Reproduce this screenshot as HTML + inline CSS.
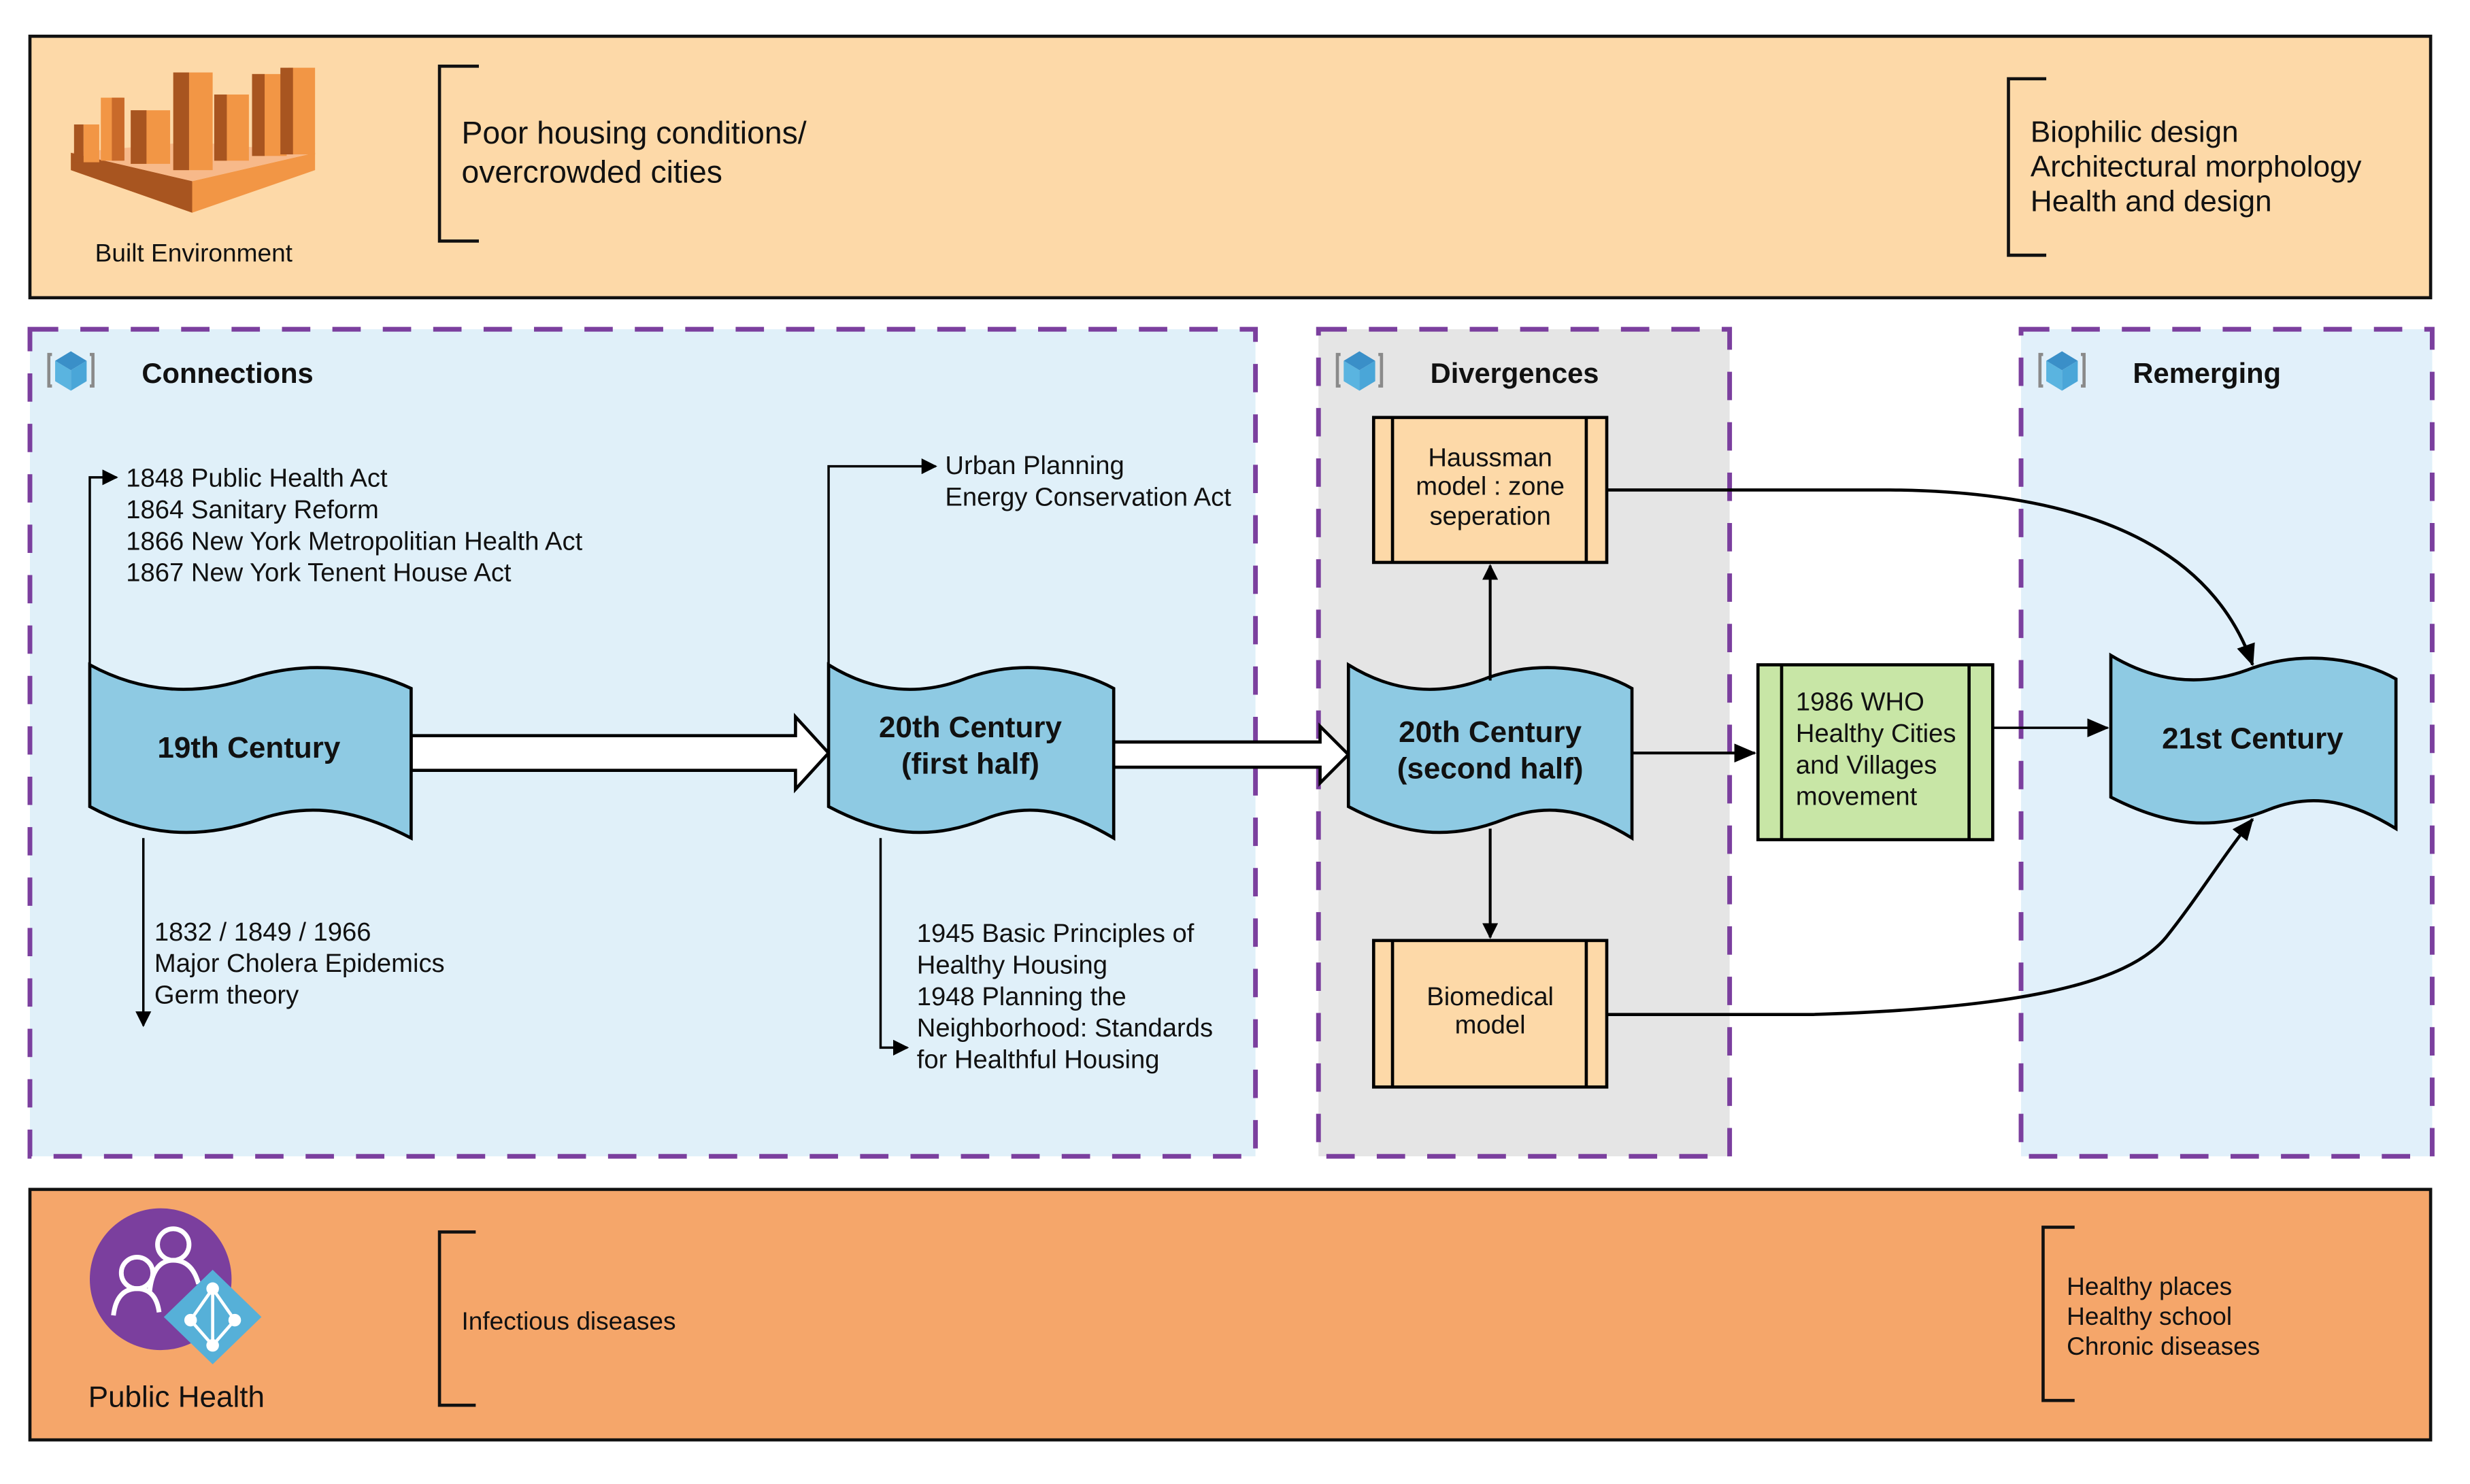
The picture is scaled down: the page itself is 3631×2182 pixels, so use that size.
<!DOCTYPE html>
<html><head><meta charset="utf-8"><style>
html,body{margin:0;padding:0;background:#fff;}
svg{display:block;}
text{font-family:"Liberation Sans",sans-serif;fill:#111;}
</style></head><body>
<svg width="3631" height="2182" viewBox="0 0 1568 942" preserveAspectRatio="none" xmlns="http://www.w3.org/2000/svg">
<defs>
<marker id="ah" markerWidth="10" markerHeight="10" refX="9" refY="5" orient="auto" markerUnits="userSpaceOnUse"><path d="M0,0 L10,5 L0,10 Z" fill="#000"/></marker>
<marker id="ah2" markerWidth="14" markerHeight="12" refX="13" refY="6" orient="auto" markerUnits="userSpaceOnUse"><path d="M0,0 L14,6 L0,12 Z" fill="#000"/></marker>
<g id="cube">
<path d="M-12,-10 L-14,-10 L-14,10 L-12,10" fill="none" stroke="#8a8a8a" stroke-width="2"/>
<path d="M12,-10 L14,-10 L14,10 L12,10" fill="none" stroke="#8a8a8a" stroke-width="2"/>
<path d="M0,-12 L10,-6 L0,0 L-10,-6 Z" fill="#3a8fc8"/>
<path d="M-10,-6 L0,0 L0,13 L-10,7 Z" fill="#5ab4e0"/>
<path d="M10,-6 L0,0 L0,13 L10,7 Z" fill="#4aa6d8"/>
</g>
</defs>

<rect x="19" y="23" width="1524" height="166" fill="#fdd9a8" stroke="#111" stroke-width="2"/>
<g>
<path d="M45,97 L122,115 L200,97 L200,108 L122,135 L45,108 Z" fill="#f29645"/>
<path d="M45,97 L122,115 L122,135 L45,108 Z" fill="#a85520"/>
<path d="M45,97 L122,90 L200,97 L122,115 Z" fill="#f7b98a"/>
<rect x="53" y="79" width="10" height="24" fill="#f29645"/><rect x="47" y="79" width="6" height="24" fill="#a85520"/>
<rect x="64" y="62" width="14" height="40" fill="#f29645"/><rect x="71" y="62" width="8" height="40" fill="#c96a2a"/>
<rect x="83" y="70" width="25" height="34" fill="#f29645"/><rect x="83" y="70" width="10" height="34" fill="#a85520"/>
<rect x="110" y="46" width="25" height="62" fill="#f29645"/><rect x="110" y="46" width="10" height="62" fill="#a85520"/>
<rect x="136" y="60" width="22" height="42" fill="#f29645"/><rect x="136" y="60" width="8" height="42" fill="#a85520"/>
<rect x="160" y="47" width="22" height="52" fill="#f29645"/><rect x="160" y="47" width="8" height="52" fill="#a85520"/>
<rect x="183" y="43" width="17" height="55" fill="#f29645"/><rect x="178" y="43" width="8" height="55" fill="#a85520"/>
</g>
<text x="123" y="166" font-size="16" text-anchor="middle">Built Environment</text>
<path d="M304,42 L279,42 L279,153 L304,153" fill="none" stroke="#111" stroke-width="2"/>
<text x="293" y="91" font-size="20">Poor housing conditions/</text>
<text x="293" y="116" font-size="20">overcrowded cities</text>
<path d="M1299,50 L1275,50 L1275,162 L1299,162" fill="none" stroke="#111" stroke-width="2"/>
<text x="1289" y="90" font-size="19">Biophilic design</text>
<text x="1289" y="112" font-size="19">Architectural morphology</text>
<text x="1289" y="134" font-size="19">Health and design</text>

<rect x="19" y="209" width="778" height="525" fill="#e0f0f9" stroke="#7b3f9e" stroke-width="3" stroke-dasharray="18,14"/>
<rect x="837" y="209" width="261" height="525" fill="#e5e5e5" stroke="#7b3f9e" stroke-width="3" stroke-dasharray="18,14"/>
<rect x="1283" y="209" width="261" height="525" fill="#e1f0fa" stroke="#7b3f9e" stroke-width="3" stroke-dasharray="18,14"/>
<use href="#cube" x="45" y="235"/>
<use href="#cube" x="863" y="235"/>
<use href="#cube" x="1309" y="235"/>
<text x="90" y="243" font-size="18" font-weight="bold">Connections</text>
<text x="908" y="243" font-size="18" font-weight="bold">Divergences</text>
<text x="1354" y="243" font-size="18" font-weight="bold">Remerging</text>

<rect x="19" y="755" width="1524" height="159" fill="#f5a66a" stroke="#111" stroke-width="2"/>
<circle cx="102" cy="812" r="45" fill="#7b3f9e"/>
<g fill="none" stroke="#fff" stroke-width="3">
<circle cx="110" cy="790" r="10"/><path d="M95,820 Q97,800 110,800 Q122,800 126,815"/>
<circle cx="87" cy="808" r="10"/><path d="M72,835 Q74,818 87,818 Q99,818 101,833"/>
</g>
<path d="M135,806 L166,836 L135,866 L104,836 Z" fill="#56b0d8"/>
<g stroke="#fff" stroke-width="2" fill="none"><path d="M135,818 L149,838 L135,854 L121,838 Z M135,818 L135,854"/></g>
<g fill="#fff"><circle cx="135" cy="818" r="4"/><circle cx="149" cy="838" r="4"/><circle cx="121" cy="838" r="4"/><circle cx="135" cy="854" r="4"/></g>
<text x="112" y="893" font-size="19" text-anchor="middle">Public Health</text>
<path d="M302,782 L279,782 L279,892 L302,892" fill="none" stroke="#111" stroke-width="2"/>
<text x="293" y="844" font-size="16">Infectious diseases</text>
<path d="M1317,779 L1297,779 L1297,889 L1317,889" fill="none" stroke="#111" stroke-width="2"/>
<text x="1312" y="822" font-size="16">Healthy places</text>
<text x="1312" y="841" font-size="16">Healthy school</text>
<text x="1312" y="860" font-size="16">Chronic diseases</text>

<path d="M57,422 L57,303 L74,303" fill="none" stroke="#000" stroke-width="1.5" marker-end="url(#ah)"/>
<text font-size="16.5"><tspan x="80" y="309">1848 Public Health Act</tspan><tspan x="80" y="329">1864 Sanitary Reform</tspan><tspan x="80" y="349">1866 New York Metropolitian Health Act</tspan><tspan x="80" y="369">1867 New York Tenent House Act</tspan></text>
<path d="M91,532 L91,651" fill="none" stroke="#000" stroke-width="1.5" marker-end="url(#ah)"/>
<text font-size="16.5"><tspan x="98" y="597">1832 / 1849 / 1966</tspan><tspan x="98" y="617">Major Cholera Epidemics</tspan><tspan x="98" y="637">Germ theory</tspan></text>
<path d="M526,422 L526,296 L594,296" fill="none" stroke="#000" stroke-width="1.5" marker-end="url(#ah)"/>
<text font-size="16.5"><tspan x="600" y="301">Urban Planning</tspan><tspan x="600" y="321">Energy Conservation Act</tspan></text>
<path d="M559,532 L559,665 L576,665" fill="none" stroke="#000" stroke-width="1.5" marker-end="url(#ah)"/>
<text font-size="16.5"><tspan x="582" y="598">1945 Basic Principles of</tspan><tspan x="582" y="618">Healthy Housing</tspan><tspan x="582" y="638">1948 Planning the</tspan><tspan x="582" y="658">Neighborhood: Standards</tspan><tspan x="582" y="678">for Healthful Housing</tspan></text>

<path d="M261,467 L505,467 L505,455 L526,478 L505,501 L505,489 L261,489 Z" fill="#fff" stroke="#000" stroke-width="2"/>
<path d="M707,471 L838,471 L838,461 L856,479 L838,497 L838,487 L707,487 Z" fill="#fff" stroke="#000" stroke-width="2"/>

<g fill="#8ecae3" stroke="#000" stroke-width="2">
<path d="M57,422 C90,440 125,442 160,430 C200,418 235,425 261,437 L261,532 C230,516 200,508 165,520 C125,534 90,530 57,512 Z"/>
<path d="M526,422 C555,440 585,442 615,430 C650,418 685,425 707,437 L707,532 C680,516 655,508 625,520 C590,534 560,530 526,512 Z"/>
<path d="M856,422 C885,440 915,442 945,430 C980,418 1015,425 1036,437 L1036,532 C1010,516 985,508 955,520 C920,534 890,530 856,512 Z"/>
<path d="M1340,416 C1370,434 1400,436 1430,424 C1465,412 1500,419 1521,431 L1521,526 C1495,510 1470,502 1440,514 C1405,528 1375,524 1340,506 Z"/>
</g>
<text x="158" y="481" font-size="19" font-weight="bold" text-anchor="middle">19th Century</text>
<text x="616" y="468" font-size="19" font-weight="bold" text-anchor="middle">20th Century</text>
<text x="616" y="491" font-size="19" font-weight="bold" text-anchor="middle">(first half)</text>
<text x="946" y="471" font-size="19" font-weight="bold" text-anchor="middle">20th Century</text>
<text x="946" y="494" font-size="19" font-weight="bold" text-anchor="middle">(second half)</text>
<text x="1430" y="475" font-size="19" font-weight="bold" text-anchor="middle">21st Century</text>

<g fill="#fdd9a8" stroke="#000" stroke-width="2">
<rect x="872" y="265" width="148" height="92"/>
<rect x="872" y="597" width="148" height="93"/>
</g>
<path d="M884,265 L884,357 M1007,265 L1007,357 M884,597 L884,690 M1007,597 L1007,690" stroke="#000" stroke-width="2"/>
<text font-size="16.5" text-anchor="middle"><tspan x="946" y="296">Haussman</tspan><tspan x="946" y="314">model : zone</tspan><tspan x="946" y="333">seperation</tspan></text>
<text font-size="16.5" text-anchor="middle"><tspan x="946" y="638">Biomedical</tspan><tspan x="946" y="656">model</tspan></text>
<path d="M946,432 L946,359" stroke="#000" stroke-width="1.8" marker-end="url(#ah)"/>
<path d="M946,526 L946,595" stroke="#000" stroke-width="1.8" marker-end="url(#ah)"/>
<path d="M1036,478 L1114,478" stroke="#000" stroke-width="1.8" marker-end="url(#ah2)"/>

<rect x="1116" y="422" width="149" height="111" fill="#c8e6a6" stroke="#000" stroke-width="2"/>
<path d="M1131,422 L1131,533 M1250,422 L1250,533" stroke="#000" stroke-width="2"/>
<text font-size="16.5"><tspan x="1140" y="451">1986  WHO</tspan><tspan x="1140" y="471">Healthy Cities</tspan><tspan x="1140" y="491">and Villages</tspan><tspan x="1140" y="511">movement</tspan></text>
<path d="M1265,462 L1338,462" stroke="#000" stroke-width="1.5" marker-end="url(#ah2)"/>

<path d="M1020,311 L1200,311 C1330,312 1405,350 1430,422" fill="none" stroke="#000" stroke-width="2" marker-end="url(#ah2)"/>
<path d="M1020,644 L1150,644 C1280,640 1350,625 1375,595 C1395,570 1410,545 1430,520" fill="none" stroke="#000" stroke-width="2" marker-end="url(#ah2)"/>
</svg>
</body></html>
